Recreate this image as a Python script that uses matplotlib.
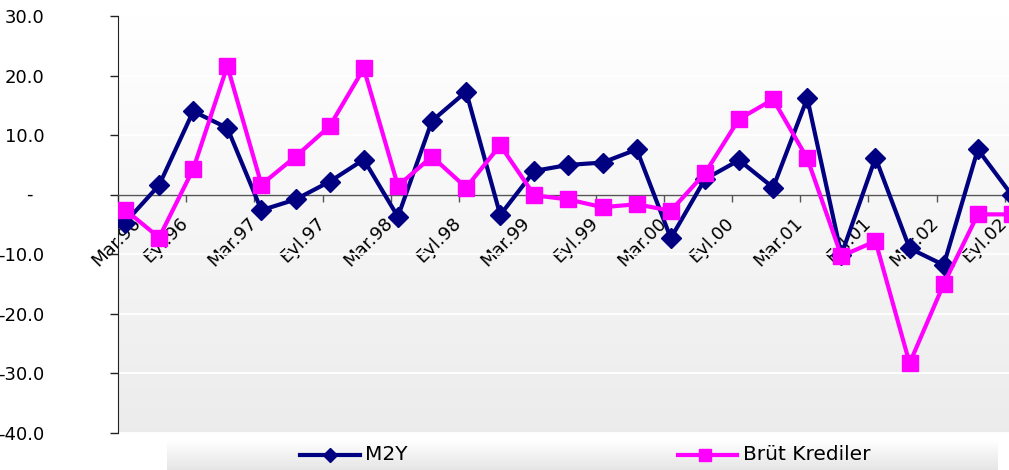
import numpy as np
import matplotlib
matplotlib.use("Agg")
import matplotlib.pyplot as plt
from matplotlib.ticker import FixedLocator, FuncFormatter
from matplotlib.transforms import ScaledTranslation

# quarterly growth rates, Mar.96 .. Eyl.02
quarters = np.arange(27)
m2y = [-4.7, 1.6, 14.0, 11.2, -2.6, -0.8, 2.2, 5.9, -3.7, 12.4, 17.3, -3.4, 4.0, 5.0,
       5.4, 7.6, -7.3, 2.6, 5.8, 1.2, 16.2, -10.1, 6.2, -9.0, -11.8, 7.6, -0.1]
brut_krediler = [-2.5, -7.2, 4.3, 21.6, 1.7, 6.4, 11.5, 21.2, 1.5, 6.4, 1.2, 8.3, -0.1, -0.8,
                 -2.1, -1.6, -2.7, 3.6, 12.7, 16.0, 6.1, -10.3, -7.8, -28.3, -15.0, -3.3, -3.3]
tick_labels = ["Mar.96", "Eyl.96", "Mar.97", "Eyl.97", "Mar.98", "Eyl.98", "Mar.99",
               "Eyl.99", "Mar.00", "Eyl.00", "Mar.01", "Eyl.01", "Mar.02", "Eyl.02"]
y_ticks = [-40, -30, -20, -10, 0, 10, 20, 30]

NAVY = "#000080"
MAGENTA = "#FF00FF"
W, H = 1009, 470

plt.rcParams["font.family"] = ["DejaVu Sans"]

fig = plt.figure(figsize=(W / 100, H / 100), dpi=100)
fig.patch.set_facecolor("white")

ax = fig.add_axes([118 / W, 1 - 433 / H, (1029 - 118) / W, (433 - 16) / H])
x0, x1 = -0.205, 26.5

# plot area: white at the top fading to light grey
shade = np.linspace(1.0, 0.925, 256)[:, None, None] * np.ones((1, 2, 3))
ax.imshow(shade, extent=[x0, x1, -40, 30], aspect="auto", zorder=0,
          interpolation="bilinear", origin="upper")
ax.set_xlim(x0, x1)
ax.set_ylim(-40, 30)

ax.yaxis.grid(True, color="white", lw=1.3)
ax.set_axisbelow(True)

for s in ("top", "right"):
    ax.spines[s].set_visible(False)
ax.spines["left"].set_color("#222222")
ax.spines["bottom"].set_position(("data", 0))
ax.spines["bottom"].set_color("#555555")
ax.spines["bottom"].set_linewidth(1.0)

ax.plot(quarters, m2y, color=NAVY, lw=3, marker="D", ms=10, mec=NAVY, zorder=3)
ax.plot(quarters, brut_krediler, color=MAGENTA, lw=3, marker="s", ms=12, mec=MAGENTA, zorder=4)

# y axis; zero is shown as a lone dash further left
ax.yaxis.set_major_locator(FixedLocator(y_ticks))
ax.yaxis.set_major_formatter(FuncFormatter(lambda v, pos: "" if v == 0 else f"{v:.1f}"))
ax.tick_params(axis="y", direction="out", length=6, width=1, color="#222222",
               pad=47, labelsize=13, labelcolor="black")
ax.text(0, 0, "-", fontsize=13, ha="right", va="center",
        transform=ax.get_yaxis_transform()
        + ScaledTranslation(-85 / 100, 0, fig.dpi_scale_trans))

# x axis: tick every two quarters on the zero line
ax.set_xticks([x0 + 2 * k for k in range(len(tick_labels))])
ax.set_xticklabels(tick_labels, rotation=45, ha="right", rotation_mode="anchor",
                   fontsize=13)
ax.tick_params(axis="x", direction="out", length=5, width=1, color="#555555", pad=9)
for i, lbl in enumerate(ax.get_xticklabels()):
    dx = 14 if i == 0 else -7
    lbl.set_transform(lbl.get_transform() + ScaledTranslation(dx / 100, 0, fig.dpi_scale_trans))

# legend strip along the bottom
lg = fig.add_axes([167 / W, 0, (997 - 167) / W, 30 / H])
lg_shade = np.linspace(1.0, 0.9, 64)[:, None, None] * np.ones((1, 2, 3))
lg.imshow(lg_shade, extent=[0, 830, 0, 30], aspect="auto", origin="upper",
          interpolation="bilinear")
lg.set_xlim(0, 830)
lg.set_ylim(0, 30)
lg.axis("off")
lg.plot([133, 193], [15, 15], color=NAVY, lw=3)
lg.plot([163], [15], color=NAVY, marker="D", ms=7)
lg.text(198, 15, "M2Y", fontsize=14.5, va="center", ha="left")
lg.plot([511, 570], [15, 15], color=MAGENTA, lw=3)
lg.plot([538], [15], color=MAGENTA, marker="s", ms=9)
lg.text(576, 15, "Brüt Krediler", fontsize=14.5, va="center", ha="left")

fig.savefig("out.png", dpi=100, facecolor="white")
